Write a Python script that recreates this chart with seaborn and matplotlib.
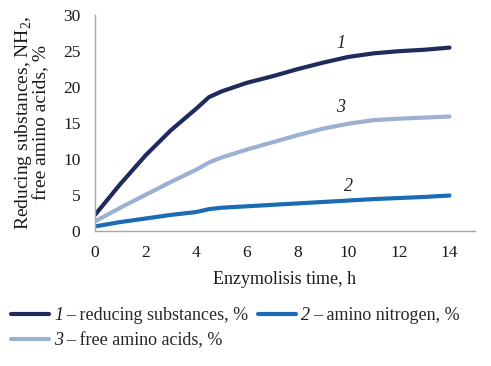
import matplotlib

matplotlib.use("Agg")
import matplotlib.pyplot as plt
import seaborn as sns
import pandas as pd

# ── data ────────────────────────────────────────────────────────────────────
time_h = [0, 1, 2, 3, 4, 4.5, 5, 6, 7, 8, 9, 10, 11, 12, 13, 14]
reducing = [2.2, 6.5, 10.5, 14.0, 17.0, 18.6, 19.4, 20.6, 21.5, 22.5, 23.4, 24.2, 24.7, 25.0, 25.2, 25.5]
amino_n = [0.6, 1.2, 1.7, 2.2, 2.6, 3.0, 3.2, 3.4, 3.6, 3.8, 4.0, 4.2, 4.4, 4.55, 4.7, 4.9]
free_aa = [1.3, 3.2, 5.0, 6.8, 8.5, 9.5, 10.2, 11.3, 12.3, 13.3, 14.2, 14.9, 15.4, 15.6, 15.75, 15.9]

series_names = ["reducing substances", "amino nitrogen", "free amino acids"]
series_ids = ["1", "2", "3"]
colors = ["#1f2b5b", "#1b6db3", "#9cb0d2"]
x_ticks = [0, 2, 4, 6, 8, 10, 12, 14]
y_ticks = [0, 5, 10, 15, 20, 25, 30]

# curve number labels (x, y)
label_pos = {"1": (9.7, 26.1), "2": (10.0, 6.2), "3": (9.7, 17.2)}

sns.set_style("white")
plt.rcParams["font.family"] = ["Liberation Serif", "DejaVu Serif"]
plt.rcParams["mathtext.fontset"] = "custom"
plt.rcParams["mathtext.rm"] = "Liberation Serif"

df = pd.DataFrame({"time": time_h * 3,
                   "value": reducing + amino_n + free_aa,
                   "series": sum([[n] * len(time_h) for n in series_names], [])})

fig = plt.figure(figsize=(4.91, 3.66), dpi=100)
ax = fig.add_axes([0.1935, 0.3697, 0.7735, 0.5885])

for name, sid, col in zip(series_names, series_ids, colors):
    sub = df[df["series"] == name]
    sns.lineplot(data=sub, x="time", y="value", ax=ax, color=col, linewidth=3,
                 label=f"– {name}, %", solid_capstyle="round")
    tx, ty = label_pos[sid]
    ax.text(tx, ty, sid, fontsize=13, style="italic", ha="center", va="center",
            color="#222222")

ax.set_xlim(0, 15)
ax.set_ylim(0, 30)
ax.set_xticks(x_ticks)
ax.set_yticks(y_ticks)
ax.tick_params(axis="both", labelsize=12.5, colors="#999999", labelcolor="#1a1a1a",
               length=4.5, width=1, direction="out")
ax.tick_params(axis="x", pad=6)
ax.tick_params(axis="y", pad=6)
for side in ["top", "right"]:
    ax.spines[side].set_visible(False)
for side in ["left", "bottom"]:
    ax.spines[side].set_color("#a6a6a6")
    ax.spines[side].set_linewidth(1)

ax.set_xlabel("Enzymolisis time, h", fontsize=13, color="#1a1a1a", labelpad=7)
ax.set_ylabel("Reducing substances, NH$_2$,\nfree amino acids, %", fontsize=14,
              color="#1a1a1a", labelpad=9, linespacing=0.95)

# legend order: column 1 -> 1, 3 ; column 2 -> 2
handles, labels = ax.get_legend_handles_labels()
ax.get_legend().remove()
order = [0, 2, 1]
leg = fig.legend([handles[i] for i in order], [labels[i] for i in order],
                 loc="upper left", bbox_to_anchor=(0.008, 0.18), ncol=2,
                 frameon=False, fontsize=13, handlelength=2.1, handletextpad=0.95,
                 columnspacing=0.55, labelspacing=0.45, borderaxespad=0)

# italic curve numbers in the gap between legend line and text
fig.canvas.draw()
renderer = fig.canvas.get_renderer()
W, H = fig.canvas.get_width_height()
for txt, i in zip(leg.get_texts(), order):
    bb = txt.get_window_extent(renderer)
    fig.text((bb.x0 - 3) / W, bb.y0 / H, series_ids[i], fontsize=13, style="italic",
             ha="right", va="bottom", color="#1a1a1a")

fig.savefig("out.png", dpi=100)
